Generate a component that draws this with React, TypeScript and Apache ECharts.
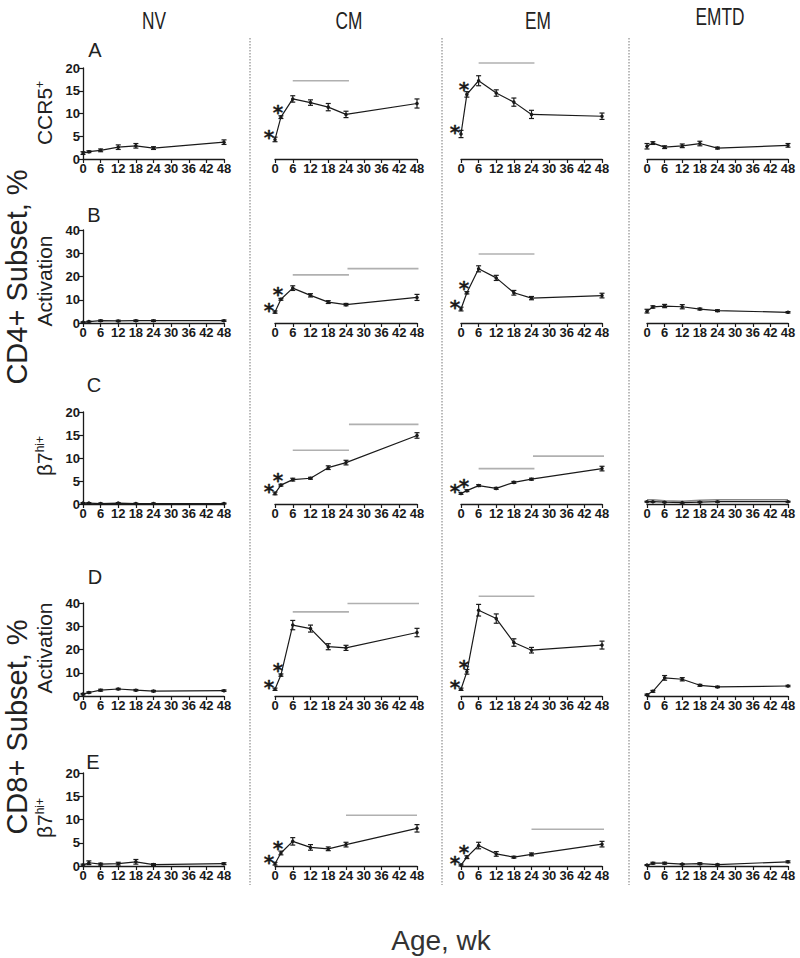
import React, { useEffect, useRef } from "react";
import * as echarts from "echarts";

// ---------------- data ----------------
const WEEKS = [0, 2, 6, 12, 18, 24, 48];
const COLUMNS = ["NV", "CM", "EM", "EMTD"];
const PANEL_LETTERS = ["A", "B", "C", "D", "E"];
const Y_MAX = [20, 40, 20, 40, 20];
const Y_STEP = [5, 10, 5, 10, 5];
const X_MAX = 48;
const X_STEP = 6;

// Row A: CCR5+
const A_NV = [1.3, 1.6, 1.9, 2.6, 2.9, 2.4, 3.7];
const A_CM = [4.3, 9.2, 13.2, 12.4, 11.4, 9.8, 12.2];
const A_EM = [5.5, 14.2, 17.2, 14.5, 12.5, 9.8, 9.4];
const A_EMTD = [2.8, 3.5, 2.6, 2.9, 3.4, 2.4, 3.0];
const A_NV_ERR = [0.3, 0.2, 0.3, 0.5, 0.5, 0.3, 0.5];
const A_CM_ERR = [0.5, 0.3, 0.7, 0.6, 0.8, 0.7, 1.0];
const A_EM_ERR = [0.8, 0.6, 1.1, 0.7, 0.9, 0.9, 0.7];
const A_EMTD_ERR = [0.6, 0.3, 0.3, 0.4, 0.5, 0.2, 0.4];

// Row B: CD4 Activation
const B_NV = [0.3, 0.6, 1.0, 0.9, 1.0, 1.0, 1.0];
const B_CM = [4.7, 10.2, 15.0, 11.9, 9.0, 7.9, 11.0];
const B_EM = [6.0, 13.0, 23.3, 19.4, 13.0, 10.7, 11.8];
const B_EMTD = [5.1, 6.9, 7.3, 7.0, 6.0, 5.3, 4.6];
const B_NV_ERR = [0.2, 0.2, 0.3, 0.3, 0.3, 0.3, 0.3];
const B_CM_ERR = [0.5, 0.4, 1.0, 0.7, 0.6, 0.5, 1.3];
const B_EM_ERR = [0.8, 0.5, 1.3, 1.1, 1.0, 0.7, 1.0];
const B_EMTD_ERR = [0.8, 0.5, 0.7, 0.9, 0.4, 0.4, 0.3];

// Row C: CD4 beta7hi+
const C_NV = [0.2, 0.2, 0.1, 0.2, 0.1, 0.1, 0.1];
const C_CM = [2.3, 4.1, 5.3, 5.6, 7.9, 9.0, 14.9];
const C_EM = [2.3, 2.9, 4.0, 3.4, 4.7, 5.4, 7.7];
const C_EMTD = [0.5, 0.5, 0.4, 0.3, 0.4, 0.5, 0.5];
const C_EMTD_UPPER = [0.9, 0.9, 0.7, 0.6, 0.8, 0.9, 0.9];
const C_NV_ERR = [0.1, 0.1, 0.1, 0.1, 0.1, 0.1, 0.1];
const C_CM_ERR = [0.3, 0.2, 0.3, 0.2, 0.4, 0.5, 0.6];
const C_EM_ERR = [0.2, 0.2, 0.2, 0.2, 0.2, 0.2, 0.5];
const C_EMTD_ERR = [0.1, 0.1, 0.1, 0.1, 0.1, 0.1, 0.1];

// Row D: CD8 Activation
const D_NV = [0.8, 1.5, 2.5, 3.0, 2.5, 2.1, 2.3];
const D_CM = [2.9, 9.0, 30.5, 29.0, 21.2, 20.7, 27.3];
const D_EM = [2.9, 10.4, 36.9, 33.3, 23.0, 19.7, 21.9];
const D_EMTD = [0.5, 2.0, 7.8, 7.2, 4.6, 3.9, 4.3];
const D_NV_ERR = [0.3, 0.3, 0.4, 0.3, 0.3, 0.3, 0.3];
const D_CM_ERR = [0.5, 0.5, 2.0, 1.5, 1.3, 1.1, 1.8];
const D_EM_ERR = [0.5, 1.0, 2.5, 2.0, 1.6, 1.2, 1.7];
const D_EMTD_ERR = [0.3, 0.4, 1.0, 0.7, 0.4, 0.3, 0.3];

// Row E: CD8 beta7hi+
const E_NV = [0.2, 0.7, 0.4, 0.5, 0.9, 0.3, 0.5];
const E_CM = [0.5, 2.8, 5.3, 4.0, 3.7, 4.6, 8.1];
const E_EM = [0.2, 1.9, 4.4, 2.6, 1.9, 2.5, 4.7];
const E_EMTD = [0.2, 0.6, 0.6, 0.4, 0.5, 0.3, 0.9];
const E_NV_ERR = [0.2, 0.4, 0.2, 0.3, 0.5, 0.2, 0.2];
const E_CM_ERR = [0.3, 0.4, 0.8, 0.6, 0.4, 0.5, 0.8];
const E_EM_ERR = [0.2, 0.3, 0.7, 0.5, 0.2, 0.3, 0.6];
const E_EMTD_ERR = [0.1, 0.2, 0.2, 0.1, 0.2, 0.1, 0.2];

// significance bars: [fromWeek, toWeek, level]
const SIG_A_CM = [[6, 25, 17.2]];
const SIG_A_EM = [[6, 25, 21.1]];
const SIG_B_CM = [[6, 25, 20.7], [24.5, 48.5, 23.4]];
const SIG_B_EM = [[6, 25, 29.7]];
const SIG_C_CM = [[6, 25, 11.7], [25, 48.5, 17.3]];
const SIG_C_EM = [[6, 25, 7.7], [24.5, 49, 10.4]];
const SIG_D_CM = [[6, 25, 36.2], [24.5, 49.5, 39.8]];
const SIG_D_EM = [[6, 25, 42.9]];
const SIG_E_CM = [[24, 48, 10.9]];
const SIG_E_EM = [[24, 49, 7.9]];

const VALUES = [
  [A_NV, A_CM, A_EM, A_EMTD],
  [B_NV, B_CM, B_EM, B_EMTD],
  [C_NV, C_CM, C_EM, C_EMTD],
  [D_NV, D_CM, D_EM, D_EMTD],
  [E_NV, E_CM, E_EM, E_EMTD],
];
const ERRORS = [
  [A_NV_ERR, A_CM_ERR, A_EM_ERR, A_EMTD_ERR],
  [B_NV_ERR, B_CM_ERR, B_EM_ERR, B_EMTD_ERR],
  [C_NV_ERR, C_CM_ERR, C_EM_ERR, C_EMTD_ERR],
  [D_NV_ERR, D_CM_ERR, D_EM_ERR, D_EMTD_ERR],
  [E_NV_ERR, E_CM_ERR, E_EM_ERR, E_EMTD_ERR],
];
const SIGS: number[][][][] = [
  [[], SIG_A_CM, SIG_A_EM, []],
  [[], SIG_B_CM, SIG_B_EM, []],
  [[], SIG_C_CM, SIG_C_EM, []],
  [[], SIG_D_CM, SIG_D_EM, []],
  [[], SIG_E_CM, SIG_E_EM, []],
];
const STARRED_COLUMNS = [1, 2];

// ---------------- layout ----------------
const COL_LEFT = [83, 275, 461, 647];
const COL_W = [141, 142, 141, 141];
const ROW_TOP = [68, 230, 412, 603, 773];
const ROW_H = [91, 93, 92, 93, 93];
const SEP_X = [250, 442, 629];
const STAR_OFFSETS = [
  [-6, -2],
  [-3, -5],
];

const FONT = "'Liberation Sans', Arial, sans-serif";
const INK = "#1a1a1a";

function buildOption() {
  const grid: any[] = [];
  const xAxis: any[] = [];
  const yAxis: any[] = [];
  const series: any[] = [];

  const tickLabel = {
    color: INK,
    fontFamily: FONT,
    fontWeight: "bold",
    fontSize: 13,
    margin: 3,
  };

  for (let r = 0; r < 5; r++) {
    for (let c = 0; c < 4; c++) {
      const idx = r * 4 + c;
      grid.push({ left: COL_LEFT[c], top: ROW_TOP[r], width: COL_W[c], height: ROW_H[r] });
      xAxis.push({
        gridIndex: idx,
        type: "value",
        min: 0,
        max: X_MAX,
        interval: X_STEP,
        axisLine: { show: true, lineStyle: { color: INK, width: 1.3 } },
        axisTick: { show: true, length: 4, lineStyle: { color: INK, width: 1.2 } },
        axisLabel: tickLabel,
        splitLine: { show: false },
      });
      yAxis.push({
        gridIndex: idx,
        type: "value",
        min: 0,
        max: Y_MAX[r],
        interval: Y_STEP[r],
        show: c === 0,
        axisLine: { show: true, lineStyle: { color: INK, width: 1.3 } },
        axisTick: { show: true, length: 4, lineStyle: { color: INK, width: 1.2 } },
        axisLabel: tickLabel,
        splitLine: { show: false },
      });

      const vals = VALUES[r][c];
      const errs = ERRORS[r][c];

      // error bars
      series.push({
        type: "custom",
        xAxisIndex: idx,
        yAxisIndex: idx,
        silent: true,
        z: 3,
        encode: { x: 0, y: [1, 2] },
        data: WEEKS.map((w, i) => [w, vals[i] - errs[i], vals[i] + errs[i]]),
        renderItem: (params: any, api: any) => {
          const x = api.value(0);
          const lo = api.coord([x, api.value(1)]);
          const hi = api.coord([x, api.value(2)]);
          const hw = 2.5;
          const st = { stroke: INK, lineWidth: 1.2 };
          return {
            type: "group",
            children: [
              { type: "line", shape: { x1: lo[0], y1: lo[1], x2: hi[0], y2: hi[1] }, style: st },
              { type: "line", shape: { x1: lo[0] - hw, y1: lo[1], x2: lo[0] + hw, y2: lo[1] }, style: st },
              { type: "line", shape: { x1: hi[0] - hw, y1: hi[1], x2: hi[0] + hw, y2: hi[1] }, style: st },
            ],
          };
        },
      });

      const starred = STARRED_COLUMNS.includes(c);
      series.push({
        type: "line",
        xAxisIndex: idx,
        yAxisIndex: idx,
        z: 4,
        silent: true,
        symbol: "circle",
        symbolSize: 3.5,
        color: INK,
        itemStyle: { color: INK },
        lineStyle: { color: INK, width: 1.2 },
        label: { show: false },
        data: WEEKS.map((w, i) => {
          const item: any = { value: [w, vals[i]] };
          if (starred && i < 2) {
            item.label = {
              show: true,
              formatter: "*",
              position: "inside",
              offset: STAR_OFFSETS[i],
              fontSize: 20,
              lineHeight: 6,
              fontWeight: "bold",
              fontFamily: "'DejaVu Sans', sans-serif",
              color: INK,
              textBorderWidth: 0.3,
              textBorderColor: INK,
            };
          }
          return item;
        }),
      });

      if (r === 2 && c === 3) {
        series.push({
          type: "line",
          xAxisIndex: idx,
          yAxisIndex: idx,
          z: 3,
          silent: true,
          symbol: "none",
          lineStyle: { color: "#888", width: 1.5 },
          data: WEEKS.map((w, i) => [w, C_EMTD_UPPER[i]]),
        });
      }

      SIGS[r][c].forEach((s) => {
        series.push({
          type: "line",
          xAxisIndex: idx,
          yAxisIndex: idx,
          z: 2,
          silent: true,
          clip: false,
          symbol: "none",
          lineStyle: { color: "#b0b0b0", width: 1.6 },
          data: [
            [s[0], s[2]],
            [s[1], s[2]],
          ],
        });
      });
    }
  }

  const graphic: any[] = [];
  const txt = (x: number, y: number, style: any, extra: any = {}) => ({
    type: "text",
    x,
    y,
    silent: true,
    ...extra,
    style: {
      fill: "#222",
      align: "center",
      verticalAlign: "middle",
      textAlign: "center",
      textVerticalAlign: "middle",
      ...style,
    },
  });

  const HEADER_POS = [
    [154, 20],
    [349, 20],
    [538, 20],
    [720, 16],
  ];
  COLUMNS.forEach((name, i) => {
    graphic.push(
      txt(HEADER_POS[i][0], HEADER_POS[i][1], { text: name, font: `24px ${FONT}` }, { scaleX: 0.72 })
    );
  });

  const LETTER_POS = [
    [95, 50],
    [94, 215],
    [94, 385],
    [95, 577],
    [93, 762],
  ];
  PANEL_LETTERS.forEach((l, i) => {
    graphic.push(txt(LETTER_POS[i][0], LETTER_POS[i][1], { text: l, font: `20px ${FONT}` }));
  });

  const ROW_LABEL_Y = [113, 281, 456, 648, 818];
  const ROW_LABEL_TEXT = [
    "{m|CCR5}{s|+}",
    "{m|Activation}",
    "{m|β7}{s|hi+}",
    "{m|Activation}",
    "{m|β7}{s|hi+}",
  ];
  ROW_LABEL_TEXT.forEach((t, i) => {
    graphic.push(
      txt(
        44,
        ROW_LABEL_Y[i],
        {
          text: t,
          rich: {
            m: { fontSize: 21, fontFamily: FONT, fill: "#222", color: "#222" },
            s: { fontSize: 12, fontFamily: FONT, fill: "#222", color: "#222", verticalAlign: "top", padding: [0, 0, 6, 0] },
          },
        },
        { rotation: Math.PI / 2 }
      )
    );
  });

  graphic.push(txt(17, 277, { text: "CD4+ Subset, %", font: `29px ${FONT}` }, { rotation: Math.PI / 2 }));
  graphic.push(txt(17, 727, { text: "CD8+ Subset, %", font: `29px ${FONT}` }, { rotation: Math.PI / 2 }));
  graphic.push(txt(441, 940, { text: "Age, wk", font: `28px ${FONT}`, fill: "#333" }));

  SEP_X.forEach((x) => {
    graphic.push({
      type: "line",
      silent: true,
      shape: { x1: x, y1: 38, x2: x, y2: 885 },
      style: { stroke: "#777", lineWidth: 1, lineDash: [1.5, 1.5] },
    });
  });

  return {
    animation: false,
    backgroundColor: "#fff",
    color: [INK],
    grid,
    xAxis,
    yAxis,
    series,
    graphic,
  };
}

export default function App() {
  const ref = useRef<HTMLDivElement>(null);
  useEffect(() => {
    if (!ref.current) return;
    const chart = echarts.init(ref.current, undefined, { renderer: "svg" });
    chart.setOption(buildOption() as any);
    return () => chart.dispose();
  }, []);
  return (
    <div
      ref={ref}
      style={{ position: "fixed", left: 0, top: 0, width: 800, height: 958, background: "#fff" }}
    />
  );
}
